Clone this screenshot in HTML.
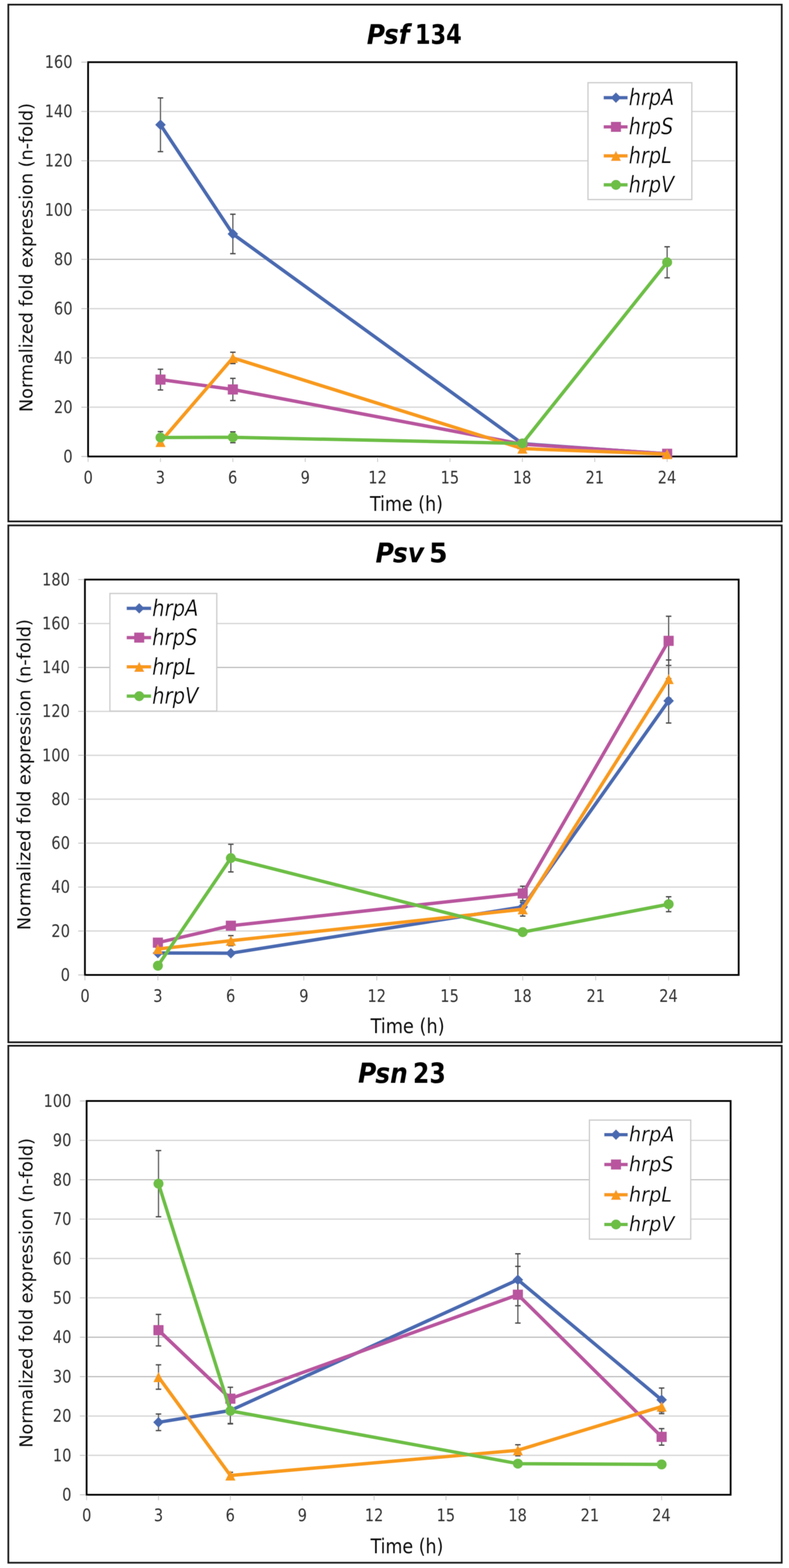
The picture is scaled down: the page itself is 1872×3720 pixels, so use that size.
<!DOCTYPE html><html><head><meta charset="utf-8"><title>hrp gene expression</title><style>html,body{margin:0;padding:0;background:#fff;}svg{display:block;}text{font-family:"DejaVu Sans Condensed","DejaVu Sans",sans-serif;}</style></head><body>
<svg width="1872" height="3720" viewBox="0 0 1872 3720">
<defs><filter id="soft" filterUnits="userSpaceOnUse" x="0" y="0" width="1872" height="3720"><feConvolveMatrix order="3" kernelMatrix="1 2 1 2 4 2 1 2 1" divisor="16" edgeMode="duplicate"/></filter></defs>
<rect x="0" y="0" width="1872" height="3720" fill="#fff"/>
<g filter="url(#soft)">
<rect x="19.75" y="11" width="1835" height="1226" fill="none" stroke="#161616" stroke-width="4"/>
<line x1="209" y1="966.06" x2="1747.75" y2="966.06" stroke="#d6d6d6" stroke-width="3"/>
<line x1="209" y1="849.12" x2="1747.75" y2="849.12" stroke="#d6d6d6" stroke-width="3"/>
<line x1="209" y1="732.19" x2="1747.75" y2="732.19" stroke="#d6d6d6" stroke-width="3"/>
<line x1="209" y1="615.25" x2="1747.75" y2="615.25" stroke="#b4b4b4" stroke-width="2.4"/>
<line x1="209" y1="498.31" x2="1747.75" y2="498.31" stroke="#d6d6d6" stroke-width="3"/>
<line x1="209" y1="381.38" x2="1747.75" y2="381.38" stroke="#d6d6d6" stroke-width="3"/>
<line x1="209" y1="264.44" x2="1747.75" y2="264.44" stroke="#d6d6d6" stroke-width="3"/>
<line x1="193" y1="1083" x2="209" y2="1083" stroke="#c4c4c4" stroke-width="2.2"/>
<line x1="193" y1="966.06" x2="209" y2="966.06" stroke="#c4c4c4" stroke-width="2.2"/>
<line x1="193" y1="849.12" x2="209" y2="849.12" stroke="#c4c4c4" stroke-width="2.2"/>
<line x1="193" y1="732.19" x2="209" y2="732.19" stroke="#c4c4c4" stroke-width="2.2"/>
<line x1="193" y1="615.25" x2="209" y2="615.25" stroke="#c4c4c4" stroke-width="2.2"/>
<line x1="193" y1="498.31" x2="209" y2="498.31" stroke="#c4c4c4" stroke-width="2.2"/>
<line x1="193" y1="381.38" x2="209" y2="381.38" stroke="#c4c4c4" stroke-width="2.2"/>
<line x1="193" y1="264.44" x2="209" y2="264.44" stroke="#c4c4c4" stroke-width="2.2"/>
<line x1="193" y1="147.5" x2="209" y2="147.5" stroke="#c4c4c4" stroke-width="2.2"/>
<line x1="209" y1="1083" x2="209" y2="1096" stroke="#cccccc" stroke-width="2.2"/>
<line x1="380.74" y1="1083" x2="380.74" y2="1096" stroke="#cccccc" stroke-width="2.2"/>
<line x1="552.47" y1="1083" x2="552.47" y2="1096" stroke="#cccccc" stroke-width="2.2"/>
<line x1="724.21" y1="1083" x2="724.21" y2="1096" stroke="#cccccc" stroke-width="2.2"/>
<line x1="895.94" y1="1083" x2="895.94" y2="1096" stroke="#cccccc" stroke-width="2.2"/>
<line x1="1067.68" y1="1083" x2="1067.68" y2="1096" stroke="#cccccc" stroke-width="2.2"/>
<line x1="1239.41" y1="1083" x2="1239.41" y2="1096" stroke="#cccccc" stroke-width="2.2"/>
<line x1="1411.15" y1="1083" x2="1411.15" y2="1096" stroke="#cccccc" stroke-width="2.2"/>
<line x1="1582.88" y1="1083" x2="1582.88" y2="1096" stroke="#cccccc" stroke-width="2.2"/>
<rect x="209" y="147.5" width="1538.75" height="935.5" fill="none" stroke="#000" stroke-width="4.2"/>
<line x1="380.74" y1="232.28" x2="380.74" y2="359.74" stroke="#555555" stroke-width="2.8"/>
<line x1="374.24" y1="232.28" x2="387.24" y2="232.28" stroke="#444444" stroke-width="3"/>
<line x1="374.24" y1="359.74" x2="387.24" y2="359.74" stroke="#444444" stroke-width="3"/>
<line x1="552.47" y1="508.25" x2="552.47" y2="601.8" stroke="#555555" stroke-width="2.8"/>
<line x1="545.97" y1="508.25" x2="558.97" y2="508.25" stroke="#444444" stroke-width="3"/>
<line x1="545.97" y1="601.8" x2="558.97" y2="601.8" stroke="#444444" stroke-width="3"/>
<line x1="1239.41" y1="1047.92" x2="1239.41" y2="1057.27" stroke="#555555" stroke-width="2.8"/>
<line x1="1232.91" y1="1047.92" x2="1245.91" y2="1047.92" stroke="#444444" stroke-width="3"/>
<line x1="1232.91" y1="1057.27" x2="1245.91" y2="1057.27" stroke="#444444" stroke-width="3"/>
<line x1="1582.88" y1="1073.94" x2="1582.88" y2="1079.78" stroke="#555555" stroke-width="2.8"/>
<line x1="1576.38" y1="1073.94" x2="1589.38" y2="1073.94" stroke="#444444" stroke-width="3"/>
<line x1="1576.38" y1="1079.78" x2="1589.38" y2="1079.78" stroke="#444444" stroke-width="3"/>
<line x1="380.74" y1="876.02" x2="380.74" y2="925.13" stroke="#555555" stroke-width="2.8"/>
<line x1="374.24" y1="876.02" x2="387.24" y2="876.02" stroke="#444444" stroke-width="3"/>
<line x1="374.24" y1="925.13" x2="387.24" y2="925.13" stroke="#444444" stroke-width="3"/>
<line x1="552.47" y1="897.65" x2="552.47" y2="950.28" stroke="#555555" stroke-width="2.8"/>
<line x1="545.97" y1="897.65" x2="558.97" y2="897.65" stroke="#444444" stroke-width="3"/>
<line x1="545.97" y1="950.28" x2="558.97" y2="950.28" stroke="#444444" stroke-width="3"/>
<line x1="1239.41" y1="1049.09" x2="1239.41" y2="1058.44" stroke="#555555" stroke-width="2.8"/>
<line x1="1232.91" y1="1049.09" x2="1245.91" y2="1049.09" stroke="#444444" stroke-width="3"/>
<line x1="1232.91" y1="1058.44" x2="1245.91" y2="1058.44" stroke="#444444" stroke-width="3"/>
<line x1="1582.88" y1="1073.64" x2="1582.88" y2="1079.49" stroke="#555555" stroke-width="2.8"/>
<line x1="1576.38" y1="1073.64" x2="1589.38" y2="1073.64" stroke="#444444" stroke-width="3"/>
<line x1="1576.38" y1="1079.49" x2="1589.38" y2="1079.49" stroke="#444444" stroke-width="3"/>
<line x1="380.74" y1="1042.66" x2="380.74" y2="1054.35" stroke="#555555" stroke-width="2.8"/>
<line x1="374.24" y1="1042.66" x2="387.24" y2="1042.66" stroke="#444444" stroke-width="3"/>
<line x1="374.24" y1="1054.35" x2="387.24" y2="1054.35" stroke="#444444" stroke-width="3"/>
<line x1="552.47" y1="835.68" x2="552.47" y2="862.57" stroke="#555555" stroke-width="2.8"/>
<line x1="545.97" y1="835.68" x2="558.97" y2="835.68" stroke="#444444" stroke-width="3"/>
<line x1="545.97" y1="862.57" x2="558.97" y2="862.57" stroke="#444444" stroke-width="3"/>
<line x1="1239.41" y1="1059.61" x2="1239.41" y2="1068.97" stroke="#555555" stroke-width="2.8"/>
<line x1="1232.91" y1="1059.61" x2="1245.91" y2="1059.61" stroke="#444444" stroke-width="3"/>
<line x1="1232.91" y1="1068.97" x2="1245.91" y2="1068.97" stroke="#444444" stroke-width="3"/>
<line x1="1582.88" y1="1074.23" x2="1582.88" y2="1080.08" stroke="#555555" stroke-width="2.8"/>
<line x1="1576.38" y1="1074.23" x2="1589.38" y2="1074.23" stroke="#444444" stroke-width="3"/>
<line x1="1576.38" y1="1080.08" x2="1589.38" y2="1080.08" stroke="#444444" stroke-width="3"/>
<line x1="380.74" y1="1023.95" x2="380.74" y2="1052.01" stroke="#555555" stroke-width="2.8"/>
<line x1="374.24" y1="1023.95" x2="387.24" y2="1023.95" stroke="#444444" stroke-width="3"/>
<line x1="374.24" y1="1052.01" x2="387.24" y2="1052.01" stroke="#444444" stroke-width="3"/>
<line x1="552.47" y1="1024.53" x2="552.47" y2="1050.26" stroke="#555555" stroke-width="2.8"/>
<line x1="545.97" y1="1024.53" x2="558.97" y2="1024.53" stroke="#444444" stroke-width="3"/>
<line x1="545.97" y1="1050.26" x2="558.97" y2="1050.26" stroke="#444444" stroke-width="3"/>
<line x1="1239.41" y1="1047.33" x2="1239.41" y2="1056.69" stroke="#555555" stroke-width="2.8"/>
<line x1="1232.91" y1="1047.33" x2="1245.91" y2="1047.33" stroke="#444444" stroke-width="3"/>
<line x1="1232.91" y1="1056.69" x2="1245.91" y2="1056.69" stroke="#444444" stroke-width="3"/>
<line x1="1582.88" y1="585.43" x2="1582.88" y2="659.1" stroke="#555555" stroke-width="2.8"/>
<line x1="1576.38" y1="585.43" x2="1589.38" y2="585.43" stroke="#444444" stroke-width="3"/>
<line x1="1576.38" y1="659.1" x2="1589.38" y2="659.1" stroke="#444444" stroke-width="3"/>
<polyline points="380.74,296.01 552.47,555.03 1239.41,1052.6 1582.88,1076.86" fill="none" stroke="#4A69B0" stroke-width="8" stroke-linejoin="round"/>
<polygon points="380.74,283.51 393.24,296.01 380.74,308.51 368.24,296.01" fill="#4A69B0"/>
<polygon points="552.47,542.53 564.97,555.03 552.47,567.53 539.97,555.03" fill="#4A69B0"/>
<polygon points="1239.41,1040.1 1251.91,1052.6 1239.41,1065.1 1226.91,1052.6" fill="#4A69B0"/>
<polygon points="1582.88,1064.36 1595.38,1076.86 1582.88,1089.36 1570.38,1076.86" fill="#4A69B0"/>
<polyline points="380.74,900.58 552.47,923.97 1239.41,1053.77 1582.88,1076.57" fill="none" stroke="#B8549E" stroke-width="8" stroke-linejoin="round"/>
<rect x="368.74" y="888.58" width="24" height="24" fill="#B8549E"/>
<rect x="540.47" y="911.97" width="24" height="24" fill="#B8549E"/>
<rect x="1227.41" y="1041.77" width="24" height="24" fill="#B8549E"/>
<rect x="1570.88" y="1064.57" width="24" height="24" fill="#B8549E"/>
<polyline points="380.74,1048.5 552.47,849.12 1239.41,1064.29 1582.88,1077.15" fill="none" stroke="#F8991E" stroke-width="8" stroke-linejoin="round"/>
<polygon points="380.74,1036.5 392.74,1060.5 368.74,1060.5" fill="#F8991E"/>
<polygon points="552.47,837.12 564.47,861.12 540.47,861.12" fill="#F8991E"/>
<polygon points="1239.41,1052.29 1251.41,1076.29 1227.41,1076.29" fill="#F8991E"/>
<polygon points="1582.88,1065.15 1594.88,1089.15 1570.88,1089.15" fill="#F8991E"/>
<polyline points="380.74,1037.98 552.47,1037.39 1239.41,1052.01 1582.88,622.27" fill="none" stroke="#6CBE45" stroke-width="8" stroke-linejoin="round"/>
<circle cx="380.74" cy="1037.98" r="11.8" fill="#6CBE45"/>
<circle cx="552.47" cy="1037.39" r="11.8" fill="#6CBE45"/>
<circle cx="1239.41" cy="1052.01" r="11.8" fill="#6CBE45"/>
<circle cx="1582.88" cy="622.27" r="11.8" fill="#6CBE45"/>
<rect x="1395.1" y="196.2" width="246.3" height="277.2" fill="#fff" stroke="#cccccc" stroke-width="3"/>
<line x1="1432.3" y1="231.8" x2="1489.1" y2="231.8" stroke="#4A69B0" stroke-width="8"/>
<polygon points="1461.4,219.3 1473.9,231.8 1461.4,244.3 1448.9,231.8" fill="#4A69B0"/>
<line x1="1432.3" y1="301" x2="1489.1" y2="301" stroke="#B8549E" stroke-width="8"/>
<rect x="1449.4" y="289" width="24" height="24" fill="#B8549E"/>
<line x1="1432.3" y1="369.7" x2="1489.1" y2="369.7" stroke="#F8991E" stroke-width="8"/>
<polygon points="1461.4,357.7 1473.4,381.7 1449.4,381.7" fill="#F8991E"/>
<line x1="1432.3" y1="438.6" x2="1489.1" y2="438.6" stroke="#6CBE45" stroke-width="8"/>
<circle cx="1461.4" cy="438.6" r="11.8" fill="#6CBE45"/>
<text x="870.23" y="104" font-size="64" textLength="101.4" lengthAdjust="spacingAndGlyphs" font-style="italic" font-weight="bold" fill="#000">Psf</text>
<text x="984.45" y="104" font-size="64" textLength="111.21" lengthAdjust="spacingAndGlyphs" font-weight="bold" fill="#000">134</text>
<text x="150.13" y="1096.8" font-size="41.7" textLength="22.05" lengthAdjust="spacingAndGlyphs" fill="#333333">0</text>
<text x="128.08" y="979.86" font-size="41.7" textLength="44.1" lengthAdjust="spacingAndGlyphs" fill="#333333">20</text>
<text x="128.08" y="862.92" font-size="41.7" textLength="44.1" lengthAdjust="spacingAndGlyphs" fill="#333333">40</text>
<text x="128.08" y="745.99" font-size="41.7" textLength="44.1" lengthAdjust="spacingAndGlyphs" fill="#333333">60</text>
<text x="128.08" y="629.05" font-size="41.7" textLength="44.1" lengthAdjust="spacingAndGlyphs" fill="#333333">80</text>
<text x="106.03" y="512.11" font-size="41.7" textLength="66.15" lengthAdjust="spacingAndGlyphs" fill="#333333">100</text>
<text x="106.03" y="395.18" font-size="41.7" textLength="66.15" lengthAdjust="spacingAndGlyphs" fill="#333333">120</text>
<text x="106.03" y="278.24" font-size="41.7" textLength="66.15" lengthAdjust="spacingAndGlyphs" fill="#333333">140</text>
<text x="106.03" y="161.3" font-size="41.7" textLength="66.15" lengthAdjust="spacingAndGlyphs" fill="#333333">160</text>
<text x="198.16" y="1147.28" font-size="41.7" textLength="22.05" lengthAdjust="spacingAndGlyphs" fill="#333333">0</text>
<text x="369.6" y="1147.28" font-size="41.7" textLength="22.05" lengthAdjust="spacingAndGlyphs" fill="#333333">3</text>
<text x="541.03" y="1147.28" font-size="41.7" textLength="22.05" lengthAdjust="spacingAndGlyphs" fill="#333333">6</text>
<text x="713.37" y="1147.28" font-size="41.7" textLength="22.05" lengthAdjust="spacingAndGlyphs" fill="#333333">9</text>
<text x="873.78" y="1147.28" font-size="41.7" textLength="44.1" lengthAdjust="spacingAndGlyphs" fill="#333333">12</text>
<text x="1045.21" y="1147.28" font-size="41.7" textLength="44.1" lengthAdjust="spacingAndGlyphs" fill="#333333">15</text>
<text x="1216.65" y="1147.28" font-size="41.7" textLength="44.1" lengthAdjust="spacingAndGlyphs" fill="#333333">18</text>
<text x="1389.29" y="1147.28" font-size="41.7" textLength="44.1" lengthAdjust="spacingAndGlyphs" fill="#333333">21</text>
<text x="1560.42" y="1147.28" font-size="41.7" textLength="44.1" lengthAdjust="spacingAndGlyphs" fill="#333333">24</text>
<text x="877.72" y="1212.1" font-size="48.46" textLength="173.2" lengthAdjust="spacingAndGlyphs" fill="#111">Time (h)</text>
<text x="0" y="0" font-size="42.12" textLength="732.97" lengthAdjust="spacingAndGlyphs" fill="#111" transform="translate(77 977.43) rotate(-90)">Normalized fold expression (n-fold)</text>
<text x="1491.81" y="248.7" font-size="53.16" textLength="107.86" lengthAdjust="spacingAndGlyphs" font-style="italic" fill="#000">hrpA</text>
<text x="1491.81" y="317.9" font-size="53.16" textLength="105.63" lengthAdjust="spacingAndGlyphs" font-style="italic" fill="#000">hrpS</text>
<text x="1491.81" y="386.6" font-size="53.16" textLength="102.06" lengthAdjust="spacingAndGlyphs" font-style="italic" fill="#000">hrpL</text>
<text x="1491.81" y="455.5" font-size="53.16" textLength="107.86" lengthAdjust="spacingAndGlyphs" font-style="italic" fill="#000">hrpV</text>
<rect x="19.75" y="1246.5" width="1835" height="1226.25" fill="none" stroke="#161616" stroke-width="4"/>
<line x1="201.5" y1="2208.78" x2="1752.6" y2="2208.78" stroke="#d6d6d6" stroke-width="3"/>
<line x1="201.5" y1="2104.56" x2="1752.6" y2="2104.56" stroke="#d6d6d6" stroke-width="3"/>
<line x1="201.5" y1="2000.33" x2="1752.6" y2="2000.33" stroke="#d6d6d6" stroke-width="3"/>
<line x1="201.5" y1="1896.11" x2="1752.6" y2="1896.11" stroke="#d6d6d6" stroke-width="3"/>
<line x1="201.5" y1="1791.89" x2="1752.6" y2="1791.89" stroke="#d6d6d6" stroke-width="3"/>
<line x1="201.5" y1="1687.67" x2="1752.6" y2="1687.67" stroke="#d6d6d6" stroke-width="3"/>
<line x1="201.5" y1="1583.44" x2="1752.6" y2="1583.44" stroke="#b4b4b4" stroke-width="2.4"/>
<line x1="201.5" y1="1479.22" x2="1752.6" y2="1479.22" stroke="#d6d6d6" stroke-width="3"/>
<line x1="185.5" y1="2313" x2="201.5" y2="2313" stroke="#c4c4c4" stroke-width="2.2"/>
<line x1="185.5" y1="2208.78" x2="201.5" y2="2208.78" stroke="#c4c4c4" stroke-width="2.2"/>
<line x1="185.5" y1="2104.56" x2="201.5" y2="2104.56" stroke="#c4c4c4" stroke-width="2.2"/>
<line x1="185.5" y1="2000.33" x2="201.5" y2="2000.33" stroke="#c4c4c4" stroke-width="2.2"/>
<line x1="185.5" y1="1896.11" x2="201.5" y2="1896.11" stroke="#c4c4c4" stroke-width="2.2"/>
<line x1="185.5" y1="1791.89" x2="201.5" y2="1791.89" stroke="#c4c4c4" stroke-width="2.2"/>
<line x1="185.5" y1="1687.67" x2="201.5" y2="1687.67" stroke="#c4c4c4" stroke-width="2.2"/>
<line x1="185.5" y1="1583.44" x2="201.5" y2="1583.44" stroke="#c4c4c4" stroke-width="2.2"/>
<line x1="185.5" y1="1479.22" x2="201.5" y2="1479.22" stroke="#c4c4c4" stroke-width="2.2"/>
<line x1="185.5" y1="1375" x2="201.5" y2="1375" stroke="#c4c4c4" stroke-width="2.2"/>
<line x1="201.5" y1="2313" x2="201.5" y2="2326" stroke="#cccccc" stroke-width="2.2"/>
<line x1="374.61" y1="2313" x2="374.61" y2="2326" stroke="#cccccc" stroke-width="2.2"/>
<line x1="547.73" y1="2313" x2="547.73" y2="2326" stroke="#cccccc" stroke-width="2.2"/>
<line x1="720.84" y1="2313" x2="720.84" y2="2326" stroke="#cccccc" stroke-width="2.2"/>
<line x1="893.96" y1="2313" x2="893.96" y2="2326" stroke="#cccccc" stroke-width="2.2"/>
<line x1="1067.07" y1="2313" x2="1067.07" y2="2326" stroke="#cccccc" stroke-width="2.2"/>
<line x1="1240.18" y1="2313" x2="1240.18" y2="2326" stroke="#cccccc" stroke-width="2.2"/>
<line x1="1413.3" y1="2313" x2="1413.3" y2="2326" stroke="#cccccc" stroke-width="2.2"/>
<line x1="1586.41" y1="2313" x2="1586.41" y2="2326" stroke="#cccccc" stroke-width="2.2"/>
<rect x="201.5" y="1375" width="1551.1" height="938" fill="none" stroke="#000" stroke-width="4.2"/>
<line x1="374.61" y1="2256.72" x2="374.61" y2="2265.06" stroke="#555555" stroke-width="2.8"/>
<line x1="368.11" y1="2256.72" x2="381.11" y2="2256.72" stroke="#444444" stroke-width="3"/>
<line x1="368.11" y1="2265.06" x2="381.11" y2="2265.06" stroke="#444444" stroke-width="3"/>
<line x1="547.73" y1="2257.24" x2="547.73" y2="2265.58" stroke="#555555" stroke-width="2.8"/>
<line x1="541.23" y1="2257.24" x2="554.23" y2="2257.24" stroke="#444444" stroke-width="3"/>
<line x1="541.23" y1="2265.58" x2="554.23" y2="2265.58" stroke="#444444" stroke-width="3"/>
<line x1="1240.18" y1="2141.03" x2="1240.18" y2="2161.88" stroke="#555555" stroke-width="2.8"/>
<line x1="1233.68" y1="2141.03" x2="1246.68" y2="2141.03" stroke="#444444" stroke-width="3"/>
<line x1="1233.68" y1="2161.88" x2="1246.68" y2="2161.88" stroke="#444444" stroke-width="3"/>
<line x1="1586.41" y1="1610.02" x2="1586.41" y2="1715.29" stroke="#555555" stroke-width="2.8"/>
<line x1="1579.91" y1="1610.02" x2="1592.91" y2="1610.02" stroke="#444444" stroke-width="3"/>
<line x1="1579.91" y1="1715.29" x2="1592.91" y2="1715.29" stroke="#444444" stroke-width="3"/>
<line x1="374.61" y1="2232.23" x2="374.61" y2="2240.57" stroke="#555555" stroke-width="2.8"/>
<line x1="368.11" y1="2232.23" x2="381.11" y2="2232.23" stroke="#444444" stroke-width="3"/>
<line x1="368.11" y1="2240.57" x2="381.11" y2="2240.57" stroke="#444444" stroke-width="3"/>
<line x1="547.73" y1="2192.1" x2="547.73" y2="2200.44" stroke="#555555" stroke-width="2.8"/>
<line x1="541.23" y1="2192.1" x2="554.23" y2="2192.1" stroke="#444444" stroke-width="3"/>
<line x1="541.23" y1="2200.44" x2="554.23" y2="2200.44" stroke="#444444" stroke-width="3"/>
<line x1="1240.18" y1="2102.47" x2="1240.18" y2="2136.86" stroke="#555555" stroke-width="2.8"/>
<line x1="1233.68" y1="2102.47" x2="1246.68" y2="2102.47" stroke="#444444" stroke-width="3"/>
<line x1="1233.68" y1="2136.86" x2="1246.68" y2="2136.86" stroke="#444444" stroke-width="3"/>
<line x1="1586.41" y1="1462.03" x2="1586.41" y2="1578.75" stroke="#555555" stroke-width="2.8"/>
<line x1="1579.91" y1="1462.03" x2="1592.91" y2="1462.03" stroke="#444444" stroke-width="3"/>
<line x1="1579.91" y1="1578.75" x2="1592.91" y2="1578.75" stroke="#444444" stroke-width="3"/>
<line x1="374.61" y1="2247.34" x2="374.61" y2="2255.68" stroke="#555555" stroke-width="2.8"/>
<line x1="368.11" y1="2247.34" x2="381.11" y2="2247.34" stroke="#444444" stroke-width="3"/>
<line x1="368.11" y1="2255.68" x2="381.11" y2="2255.68" stroke="#444444" stroke-width="3"/>
<line x1="547.73" y1="2219.72" x2="547.73" y2="2243.69" stroke="#555555" stroke-width="2.8"/>
<line x1="541.23" y1="2219.72" x2="554.23" y2="2219.72" stroke="#444444" stroke-width="3"/>
<line x1="541.23" y1="2243.69" x2="554.23" y2="2243.69" stroke="#444444" stroke-width="3"/>
<line x1="1240.18" y1="2141.03" x2="1240.18" y2="2173.34" stroke="#555555" stroke-width="2.8"/>
<line x1="1233.68" y1="2141.03" x2="1246.68" y2="2141.03" stroke="#444444" stroke-width="3"/>
<line x1="1233.68" y1="2173.34" x2="1246.68" y2="2173.34" stroke="#444444" stroke-width="3"/>
<line x1="1586.41" y1="1565.73" x2="1586.41" y2="1656.4" stroke="#555555" stroke-width="2.8"/>
<line x1="1579.91" y1="1565.73" x2="1592.91" y2="1565.73" stroke="#444444" stroke-width="3"/>
<line x1="1579.91" y1="1656.4" x2="1592.91" y2="1656.4" stroke="#444444" stroke-width="3"/>
<line x1="374.61" y1="2286.94" x2="374.61" y2="2295.28" stroke="#555555" stroke-width="2.8"/>
<line x1="368.11" y1="2286.94" x2="381.11" y2="2286.94" stroke="#444444" stroke-width="3"/>
<line x1="368.11" y1="2295.28" x2="381.11" y2="2295.28" stroke="#444444" stroke-width="3"/>
<line x1="547.73" y1="2002.94" x2="547.73" y2="2068.6" stroke="#555555" stroke-width="2.8"/>
<line x1="541.23" y1="2002.94" x2="554.23" y2="2002.94" stroke="#444444" stroke-width="3"/>
<line x1="541.23" y1="2068.6" x2="554.23" y2="2068.6" stroke="#444444" stroke-width="3"/>
<line x1="1240.18" y1="2207.21" x2="1240.18" y2="2215.55" stroke="#555555" stroke-width="2.8"/>
<line x1="1233.68" y1="2207.21" x2="1246.68" y2="2207.21" stroke="#444444" stroke-width="3"/>
<line x1="1233.68" y1="2215.55" x2="1246.68" y2="2215.55" stroke="#444444" stroke-width="3"/>
<line x1="1586.41" y1="2127.48" x2="1586.41" y2="2162.92" stroke="#555555" stroke-width="2.8"/>
<line x1="1579.91" y1="2127.48" x2="1592.91" y2="2127.48" stroke="#444444" stroke-width="3"/>
<line x1="1579.91" y1="2162.92" x2="1592.91" y2="2162.92" stroke="#444444" stroke-width="3"/>
<polyline points="374.61,2260.89 547.73,2261.41 1240.18,2151.46 1586.41,1662.65" fill="none" stroke="#4A69B0" stroke-width="8" stroke-linejoin="round"/>
<polygon points="374.61,2248.39 387.11,2260.89 374.61,2273.39 362.11,2260.89" fill="#4A69B0"/>
<polygon points="547.73,2248.91 560.23,2261.41 547.73,2273.91 535.23,2261.41" fill="#4A69B0"/>
<polygon points="1240.18,2138.96 1252.68,2151.46 1240.18,2163.96 1227.68,2151.46" fill="#4A69B0"/>
<polygon points="1586.41,1650.15 1598.91,1662.65 1586.41,1675.15 1573.91,1662.65" fill="#4A69B0"/>
<polyline points="374.61,2236.4 547.73,2196.27 1240.18,2119.67 1586.41,1520.39" fill="none" stroke="#B8549E" stroke-width="8" stroke-linejoin="round"/>
<rect x="362.61" y="2224.4" width="24" height="24" fill="#B8549E"/>
<rect x="535.73" y="2184.27" width="24" height="24" fill="#B8549E"/>
<rect x="1228.18" y="2107.67" width="24" height="24" fill="#B8549E"/>
<rect x="1574.41" y="1508.39" width="24" height="24" fill="#B8549E"/>
<polyline points="374.61,2251.51 547.73,2231.71 1240.18,2157.19 1586.41,1611.06" fill="none" stroke="#F8991E" stroke-width="8" stroke-linejoin="round"/>
<polygon points="374.61,2239.51 386.61,2263.51 362.61,2263.51" fill="#F8991E"/>
<polygon points="547.73,2219.71 559.73,2243.71 535.73,2243.71" fill="#F8991E"/>
<polygon points="1240.18,2145.19 1252.18,2169.19 1228.18,2169.19" fill="#F8991E"/>
<polygon points="1586.41,1599.06 1598.41,1623.06 1574.41,1623.06" fill="#F8991E"/>
<polyline points="374.61,2291.11 547.73,2035.77 1240.18,2211.38 1586.41,2145.2" fill="none" stroke="#6CBE45" stroke-width="8" stroke-linejoin="round"/>
<circle cx="374.61" cy="2291.11" r="11.8" fill="#6CBE45"/>
<circle cx="547.73" cy="2035.77" r="11.8" fill="#6CBE45"/>
<circle cx="1240.18" cy="2211.38" r="11.8" fill="#6CBE45"/>
<circle cx="1586.41" cy="2145.2" r="11.8" fill="#6CBE45"/>
<rect x="260.8" y="1408" width="253.5" height="279" fill="#fff" stroke="#cccccc" stroke-width="3"/>
<line x1="300.6" y1="1443.2" x2="358.5" y2="1443.2" stroke="#4A69B0" stroke-width="8"/>
<polygon points="330.3,1430.7 342.8,1443.2 330.3,1455.7 317.8,1443.2" fill="#4A69B0"/>
<line x1="300.6" y1="1512.7" x2="358.5" y2="1512.7" stroke="#B8549E" stroke-width="8"/>
<rect x="318.3" y="1500.7" width="24" height="24" fill="#B8549E"/>
<line x1="300.6" y1="1582.1" x2="358.5" y2="1582.1" stroke="#F8991E" stroke-width="8"/>
<polygon points="330.3,1570.1 342.3,1594.1 318.3,1594.1" fill="#F8991E"/>
<line x1="300.6" y1="1651.6" x2="358.5" y2="1651.6" stroke="#6CBE45" stroke-width="8"/>
<circle cx="330.3" cy="1651.6" r="11.8" fill="#6CBE45"/>
<text x="890.97" y="1333.75" font-size="64.68" textLength="115.24" lengthAdjust="spacingAndGlyphs" font-style="italic" font-weight="bold" fill="#000">Psv</text>
<text x="1018.11" y="1333.75" font-size="64.68" textLength="44.01" lengthAdjust="spacingAndGlyphs" font-weight="bold" fill="#000">5</text>
<text x="143.88" y="2326.8" font-size="41.7" textLength="22.05" lengthAdjust="spacingAndGlyphs" fill="#333333">0</text>
<text x="121.83" y="2222.58" font-size="41.7" textLength="44.1" lengthAdjust="spacingAndGlyphs" fill="#333333">20</text>
<text x="121.83" y="2118.36" font-size="41.7" textLength="44.1" lengthAdjust="spacingAndGlyphs" fill="#333333">40</text>
<text x="121.83" y="2014.13" font-size="41.7" textLength="44.1" lengthAdjust="spacingAndGlyphs" fill="#333333">60</text>
<text x="121.83" y="1909.91" font-size="41.7" textLength="44.1" lengthAdjust="spacingAndGlyphs" fill="#333333">80</text>
<text x="99.78" y="1805.69" font-size="41.7" textLength="66.15" lengthAdjust="spacingAndGlyphs" fill="#333333">100</text>
<text x="99.78" y="1701.47" font-size="41.7" textLength="66.15" lengthAdjust="spacingAndGlyphs" fill="#333333">120</text>
<text x="99.78" y="1597.24" font-size="41.7" textLength="66.15" lengthAdjust="spacingAndGlyphs" fill="#333333">140</text>
<text x="99.78" y="1493.02" font-size="41.7" textLength="66.15" lengthAdjust="spacingAndGlyphs" fill="#333333">160</text>
<text x="99.78" y="1388.8" font-size="41.7" textLength="66.15" lengthAdjust="spacingAndGlyphs" fill="#333333">180</text>
<text x="190.66" y="2377.28" font-size="41.7" textLength="22.05" lengthAdjust="spacingAndGlyphs" fill="#333333">0</text>
<text x="363.48" y="2377.28" font-size="41.7" textLength="22.05" lengthAdjust="spacingAndGlyphs" fill="#333333">3</text>
<text x="536.29" y="2377.28" font-size="41.7" textLength="22.05" lengthAdjust="spacingAndGlyphs" fill="#333333">6</text>
<text x="710" y="2377.28" font-size="41.7" textLength="22.05" lengthAdjust="spacingAndGlyphs" fill="#333333">9</text>
<text x="871.79" y="2377.28" font-size="41.7" textLength="44.1" lengthAdjust="spacingAndGlyphs" fill="#333333">12</text>
<text x="1044.61" y="2377.28" font-size="41.7" textLength="44.1" lengthAdjust="spacingAndGlyphs" fill="#333333">15</text>
<text x="1217.42" y="2377.28" font-size="41.7" textLength="44.1" lengthAdjust="spacingAndGlyphs" fill="#333333">18</text>
<text x="1391.44" y="2377.28" font-size="41.7" textLength="44.1" lengthAdjust="spacingAndGlyphs" fill="#333333">21</text>
<text x="1563.95" y="2377.28" font-size="41.7" textLength="44.1" lengthAdjust="spacingAndGlyphs" fill="#333333">24</text>
<text x="879.23" y="2450.8" font-size="48.07" textLength="175.63" lengthAdjust="spacingAndGlyphs" fill="#111">Time (h)</text>
<text x="0" y="0" font-size="42.06" textLength="738.12" lengthAdjust="spacingAndGlyphs" fill="#111" transform="translate(71.7 2206.85) rotate(-90)">Normalized fold expression (n-fold)</text>
<text x="361.09" y="1460.6" font-size="53.03" textLength="109.63" lengthAdjust="spacingAndGlyphs" font-style="italic" fill="#000">hrpA</text>
<text x="361.09" y="1530.1" font-size="53.03" textLength="107.36" lengthAdjust="spacingAndGlyphs" font-style="italic" fill="#000">hrpS</text>
<text x="361.09" y="1599.5" font-size="53.03" textLength="103.74" lengthAdjust="spacingAndGlyphs" font-style="italic" fill="#000">hrpL</text>
<text x="361.09" y="1669" font-size="53.03" textLength="109.63" lengthAdjust="spacingAndGlyphs" font-style="italic" fill="#000">hrpV</text>
<rect x="19.75" y="2481" width="1835" height="1226.5" fill="none" stroke="#161616" stroke-width="4"/>
<line x1="205.5" y1="3452.82" x2="1733.5" y2="3452.82" stroke="#d6d6d6" stroke-width="3"/>
<line x1="205.5" y1="3359.4" x2="1733.5" y2="3359.4" stroke="#d6d6d6" stroke-width="3"/>
<line x1="205.5" y1="3265.97" x2="1733.5" y2="3265.97" stroke="#b4b4b4" stroke-width="2.4"/>
<line x1="205.5" y1="3172.55" x2="1733.5" y2="3172.55" stroke="#b4b4b4" stroke-width="2.4"/>
<line x1="205.5" y1="3079.12" x2="1733.5" y2="3079.12" stroke="#d6d6d6" stroke-width="3"/>
<line x1="205.5" y1="2985.7" x2="1733.5" y2="2985.7" stroke="#d6d6d6" stroke-width="3"/>
<line x1="205.5" y1="2892.28" x2="1733.5" y2="2892.28" stroke="#d6d6d6" stroke-width="3"/>
<line x1="205.5" y1="2798.85" x2="1733.5" y2="2798.85" stroke="#b4b4b4" stroke-width="2.4"/>
<line x1="205.5" y1="2705.43" x2="1733.5" y2="2705.43" stroke="#d6d6d6" stroke-width="3"/>
<line x1="189.5" y1="3546.25" x2="205.5" y2="3546.25" stroke="#c4c4c4" stroke-width="2.2"/>
<line x1="189.5" y1="3452.82" x2="205.5" y2="3452.82" stroke="#c4c4c4" stroke-width="2.2"/>
<line x1="189.5" y1="3359.4" x2="205.5" y2="3359.4" stroke="#c4c4c4" stroke-width="2.2"/>
<line x1="189.5" y1="3265.97" x2="205.5" y2="3265.97" stroke="#c4c4c4" stroke-width="2.2"/>
<line x1="189.5" y1="3172.55" x2="205.5" y2="3172.55" stroke="#c4c4c4" stroke-width="2.2"/>
<line x1="189.5" y1="3079.12" x2="205.5" y2="3079.12" stroke="#c4c4c4" stroke-width="2.2"/>
<line x1="189.5" y1="2985.7" x2="205.5" y2="2985.7" stroke="#c4c4c4" stroke-width="2.2"/>
<line x1="189.5" y1="2892.28" x2="205.5" y2="2892.28" stroke="#c4c4c4" stroke-width="2.2"/>
<line x1="189.5" y1="2798.85" x2="205.5" y2="2798.85" stroke="#c4c4c4" stroke-width="2.2"/>
<line x1="189.5" y1="2705.43" x2="205.5" y2="2705.43" stroke="#c4c4c4" stroke-width="2.2"/>
<line x1="189.5" y1="2612" x2="205.5" y2="2612" stroke="#c4c4c4" stroke-width="2.2"/>
<line x1="205.5" y1="3546.25" x2="205.5" y2="3559.25" stroke="#cccccc" stroke-width="2.2"/>
<line x1="376.04" y1="3546.25" x2="376.04" y2="3559.25" stroke="#cccccc" stroke-width="2.2"/>
<line x1="546.57" y1="3546.25" x2="546.57" y2="3559.25" stroke="#cccccc" stroke-width="2.2"/>
<line x1="717.11" y1="3546.25" x2="717.11" y2="3559.25" stroke="#cccccc" stroke-width="2.2"/>
<line x1="887.64" y1="3546.25" x2="887.64" y2="3559.25" stroke="#cccccc" stroke-width="2.2"/>
<line x1="1058.18" y1="3546.25" x2="1058.18" y2="3559.25" stroke="#cccccc" stroke-width="2.2"/>
<line x1="1228.71" y1="3546.25" x2="1228.71" y2="3559.25" stroke="#cccccc" stroke-width="2.2"/>
<line x1="1399.25" y1="3546.25" x2="1399.25" y2="3559.25" stroke="#cccccc" stroke-width="2.2"/>
<line x1="1569.79" y1="3546.25" x2="1569.79" y2="3559.25" stroke="#cccccc" stroke-width="2.2"/>
<rect x="205.5" y="2612" width="1528" height="934.25" fill="none" stroke="#000" stroke-width="4.2"/>
<line x1="376.04" y1="3354.73" x2="376.04" y2="3393.97" stroke="#555555" stroke-width="2.8"/>
<line x1="369.54" y1="3354.73" x2="382.54" y2="3354.73" stroke="#444444" stroke-width="3"/>
<line x1="369.54" y1="3393.97" x2="382.54" y2="3393.97" stroke="#444444" stroke-width="3"/>
<line x1="546.57" y1="3315.49" x2="546.57" y2="3377.15" stroke="#555555" stroke-width="2.8"/>
<line x1="540.07" y1="3315.49" x2="553.07" y2="3315.49" stroke="#444444" stroke-width="3"/>
<line x1="540.07" y1="3377.15" x2="553.07" y2="3377.15" stroke="#444444" stroke-width="3"/>
<line x1="1228.71" y1="2974.49" x2="1228.71" y2="3097.81" stroke="#555555" stroke-width="2.8"/>
<line x1="1222.21" y1="2974.49" x2="1235.21" y2="2974.49" stroke="#444444" stroke-width="3"/>
<line x1="1222.21" y1="3097.81" x2="1235.21" y2="3097.81" stroke="#444444" stroke-width="3"/>
<line x1="1569.79" y1="3293.07" x2="1569.79" y2="3349.12" stroke="#555555" stroke-width="2.8"/>
<line x1="1563.29" y1="3293.07" x2="1576.29" y2="3293.07" stroke="#444444" stroke-width="3"/>
<line x1="1563.29" y1="3349.12" x2="1576.29" y2="3349.12" stroke="#444444" stroke-width="3"/>
<line x1="376.04" y1="3118.36" x2="376.04" y2="3193.1" stroke="#555555" stroke-width="2.8"/>
<line x1="369.54" y1="3118.36" x2="382.54" y2="3118.36" stroke="#444444" stroke-width="3"/>
<line x1="369.54" y1="3193.1" x2="382.54" y2="3193.1" stroke="#444444" stroke-width="3"/>
<line x1="546.57" y1="3291.2" x2="546.57" y2="3345.39" stroke="#555555" stroke-width="2.8"/>
<line x1="540.07" y1="3291.2" x2="553.07" y2="3291.2" stroke="#444444" stroke-width="3"/>
<line x1="540.07" y1="3345.39" x2="553.07" y2="3345.39" stroke="#444444" stroke-width="3"/>
<line x1="1228.71" y1="3004.39" x2="1228.71" y2="3138.92" stroke="#555555" stroke-width="2.8"/>
<line x1="1222.21" y1="3004.39" x2="1235.21" y2="3004.39" stroke="#444444" stroke-width="3"/>
<line x1="1222.21" y1="3138.92" x2="1235.21" y2="3138.92" stroke="#444444" stroke-width="3"/>
<line x1="1569.79" y1="3389.3" x2="1569.79" y2="3428.53" stroke="#555555" stroke-width="2.8"/>
<line x1="1563.29" y1="3389.3" x2="1576.29" y2="3389.3" stroke="#444444" stroke-width="3"/>
<line x1="1563.29" y1="3428.53" x2="1576.29" y2="3428.53" stroke="#444444" stroke-width="3"/>
<line x1="376.04" y1="3237.95" x2="376.04" y2="3295.87" stroke="#555555" stroke-width="2.8"/>
<line x1="369.54" y1="3237.95" x2="382.54" y2="3237.95" stroke="#444444" stroke-width="3"/>
<line x1="369.54" y1="3295.87" x2="382.54" y2="3295.87" stroke="#444444" stroke-width="3"/>
<line x1="546.57" y1="3493" x2="546.57" y2="3507.95" stroke="#555555" stroke-width="2.8"/>
<line x1="540.07" y1="3493" x2="553.07" y2="3493" stroke="#444444" stroke-width="3"/>
<line x1="540.07" y1="3507.95" x2="553.07" y2="3507.95" stroke="#444444" stroke-width="3"/>
<line x1="1228.71" y1="3427.6" x2="1228.71" y2="3453.76" stroke="#555555" stroke-width="2.8"/>
<line x1="1222.21" y1="3427.6" x2="1235.21" y2="3427.6" stroke="#444444" stroke-width="3"/>
<line x1="1222.21" y1="3453.76" x2="1235.21" y2="3453.76" stroke="#444444" stroke-width="3"/>
<line x1="1569.79" y1="3320.16" x2="1569.79" y2="3353.79" stroke="#555555" stroke-width="2.8"/>
<line x1="1563.29" y1="3320.16" x2="1576.29" y2="3320.16" stroke="#444444" stroke-width="3"/>
<line x1="1563.29" y1="3353.79" x2="1576.29" y2="3353.79" stroke="#444444" stroke-width="3"/>
<line x1="376.04" y1="2729.72" x2="376.04" y2="2886.67" stroke="#555555" stroke-width="2.8"/>
<line x1="369.54" y1="2729.72" x2="382.54" y2="2729.72" stroke="#444444" stroke-width="3"/>
<line x1="369.54" y1="2886.67" x2="382.54" y2="2886.67" stroke="#444444" stroke-width="3"/>
<line x1="546.57" y1="3316.42" x2="546.57" y2="3378.09" stroke="#555555" stroke-width="2.8"/>
<line x1="540.07" y1="3316.42" x2="553.07" y2="3316.42" stroke="#444444" stroke-width="3"/>
<line x1="540.07" y1="3378.09" x2="553.07" y2="3378.09" stroke="#444444" stroke-width="3"/>
<line x1="1228.71" y1="3464.97" x2="1228.71" y2="3479.92" stroke="#555555" stroke-width="2.8"/>
<line x1="1222.21" y1="3464.97" x2="1235.21" y2="3464.97" stroke="#444444" stroke-width="3"/>
<line x1="1222.21" y1="3479.92" x2="1235.21" y2="3479.92" stroke="#444444" stroke-width="3"/>
<line x1="1569.79" y1="3466.84" x2="1569.79" y2="3481.79" stroke="#555555" stroke-width="2.8"/>
<line x1="1563.29" y1="3466.84" x2="1576.29" y2="3466.84" stroke="#444444" stroke-width="3"/>
<line x1="1563.29" y1="3481.79" x2="1576.29" y2="3481.79" stroke="#444444" stroke-width="3"/>
<polyline points="376.04,3374.35 546.57,3346.32 1228.71,3036.15 1569.79,3321.1" fill="none" stroke="#4A69B0" stroke-width="8" stroke-linejoin="round"/>
<polygon points="376.04,3361.85 388.54,3374.35 376.04,3386.85 363.54,3374.35" fill="#4A69B0"/>
<polygon points="546.57,3333.82 559.07,3346.32 546.57,3358.82 534.07,3346.32" fill="#4A69B0"/>
<polygon points="1228.71,3023.65 1241.21,3036.15 1228.71,3048.65 1216.21,3036.15" fill="#4A69B0"/>
<polygon points="1569.79,3308.6 1582.29,3321.1 1569.79,3333.6 1557.29,3321.1" fill="#4A69B0"/>
<polyline points="376.04,3155.73 546.57,3318.29 1228.71,3071.65 1569.79,3408.92" fill="none" stroke="#B8549E" stroke-width="8" stroke-linejoin="round"/>
<rect x="364.04" y="3143.73" width="24" height="24" fill="#B8549E"/>
<rect x="534.57" y="3306.29" width="24" height="24" fill="#B8549E"/>
<rect x="1216.71" y="3059.65" width="24" height="24" fill="#B8549E"/>
<rect x="1557.79" y="3396.92" width="24" height="24" fill="#B8549E"/>
<polyline points="376.04,3266.91 546.57,3500.47 1228.71,3440.68 1569.79,3336.98" fill="none" stroke="#F8991E" stroke-width="8" stroke-linejoin="round"/>
<polygon points="376.04,3254.91 388.04,3278.91 364.04,3278.91" fill="#F8991E"/>
<polygon points="546.57,3488.47 558.57,3512.47 534.57,3512.47" fill="#F8991E"/>
<polygon points="1228.71,3428.68 1240.71,3452.68 1216.71,3452.68" fill="#F8991E"/>
<polygon points="1569.79,3324.98 1581.79,3348.98 1557.79,3348.98" fill="#F8991E"/>
<polyline points="376.04,2808.19 546.57,3347.25 1228.71,3472.44 1569.79,3474.31" fill="none" stroke="#6CBE45" stroke-width="8" stroke-linejoin="round"/>
<circle cx="376.04" cy="2808.19" r="11.8" fill="#6CBE45"/>
<circle cx="546.57" cy="3347.25" r="11.8" fill="#6CBE45"/>
<circle cx="1228.71" cy="3472.44" r="11.8" fill="#6CBE45"/>
<circle cx="1569.79" cy="3474.31" r="11.8" fill="#6CBE45"/>
<rect x="1398.5" y="2657.4" width="240.3" height="282.4" fill="#fff" stroke="#cccccc" stroke-width="3"/>
<line x1="1433.7" y1="2692.1" x2="1489.3" y2="2692.1" stroke="#4A69B0" stroke-width="8"/>
<polygon points="1461.5,2679.6 1474,2692.1 1461.5,2704.6 1449,2692.1" fill="#4A69B0"/>
<line x1="1433.7" y1="2762.7" x2="1489.3" y2="2762.7" stroke="#B8549E" stroke-width="8"/>
<rect x="1449.5" y="2750.7" width="24" height="24" fill="#B8549E"/>
<line x1="1433.7" y1="2834.4" x2="1489.3" y2="2834.4" stroke="#F8991E" stroke-width="8"/>
<polygon points="1461.5,2822.4 1473.5,2846.4 1449.5,2846.4" fill="#F8991E"/>
<line x1="1433.7" y1="2905" x2="1489.3" y2="2905" stroke="#6CBE45" stroke-width="8"/>
<circle cx="1461.5" cy="2905" r="11.8" fill="#6CBE45"/>
<text x="849.47" y="2568.75" font-size="66.38" textLength="118.1" lengthAdjust="spacingAndGlyphs" font-style="italic" font-weight="bold" fill="#000">Psn</text>
<text x="979.86" y="2568.75" font-size="66.38" textLength="77.83" lengthAdjust="spacingAndGlyphs" font-weight="bold" fill="#000">23</text>
<text x="147.38" y="3560.05" font-size="41.7" textLength="22.05" lengthAdjust="spacingAndGlyphs" fill="#333333">0</text>
<text x="125.33" y="3466.62" font-size="41.7" textLength="44.1" lengthAdjust="spacingAndGlyphs" fill="#333333">10</text>
<text x="125.33" y="3373.2" font-size="41.7" textLength="44.1" lengthAdjust="spacingAndGlyphs" fill="#333333">20</text>
<text x="125.33" y="3279.78" font-size="41.7" textLength="44.1" lengthAdjust="spacingAndGlyphs" fill="#333333">30</text>
<text x="125.33" y="3186.35" font-size="41.7" textLength="44.1" lengthAdjust="spacingAndGlyphs" fill="#333333">40</text>
<text x="125.33" y="3092.93" font-size="41.7" textLength="44.1" lengthAdjust="spacingAndGlyphs" fill="#333333">50</text>
<text x="125.33" y="2999.5" font-size="41.7" textLength="44.1" lengthAdjust="spacingAndGlyphs" fill="#333333">60</text>
<text x="125.33" y="2906.08" font-size="41.7" textLength="44.1" lengthAdjust="spacingAndGlyphs" fill="#333333">70</text>
<text x="125.33" y="2812.65" font-size="41.7" textLength="44.1" lengthAdjust="spacingAndGlyphs" fill="#333333">80</text>
<text x="125.33" y="2719.23" font-size="41.7" textLength="44.1" lengthAdjust="spacingAndGlyphs" fill="#333333">90</text>
<text x="103.28" y="2625.8" font-size="41.7" textLength="66.15" lengthAdjust="spacingAndGlyphs" fill="#333333">100</text>
<text x="194.66" y="3608.78" font-size="41.7" textLength="22.05" lengthAdjust="spacingAndGlyphs" fill="#333333">0</text>
<text x="364.9" y="3608.78" font-size="41.7" textLength="22.05" lengthAdjust="spacingAndGlyphs" fill="#333333">3</text>
<text x="535.13" y="3608.78" font-size="41.7" textLength="22.05" lengthAdjust="spacingAndGlyphs" fill="#333333">6</text>
<text x="706.27" y="3608.78" font-size="41.7" textLength="22.05" lengthAdjust="spacingAndGlyphs" fill="#333333">9</text>
<text x="865.48" y="3608.78" font-size="41.7" textLength="44.1" lengthAdjust="spacingAndGlyphs" fill="#333333">12</text>
<text x="1035.71" y="3608.78" font-size="41.7" textLength="44.1" lengthAdjust="spacingAndGlyphs" fill="#333333">15</text>
<text x="1205.95" y="3608.78" font-size="41.7" textLength="44.1" lengthAdjust="spacingAndGlyphs" fill="#333333">18</text>
<text x="1377.39" y="3608.78" font-size="41.7" textLength="44.1" lengthAdjust="spacingAndGlyphs" fill="#333333">21</text>
<text x="1547.32" y="3608.78" font-size="41.7" textLength="44.1" lengthAdjust="spacingAndGlyphs" fill="#333333">24</text>
<text x="879.22" y="3685" font-size="47.93" textLength="172.69" lengthAdjust="spacingAndGlyphs" fill="#111">Time (h)</text>
<text x="0" y="0" font-size="42.06" textLength="734.59" lengthAdjust="spacingAndGlyphs" fill="#111" transform="translate(77.1 3434.54) rotate(-90)">Normalized fold expression (n-fold)</text>
<text x="1492.31" y="2708.3" font-size="49.89" textLength="107.96" lengthAdjust="spacingAndGlyphs" font-style="italic" fill="#000">hrpA</text>
<text x="1492.31" y="2778.9" font-size="49.89" textLength="105.73" lengthAdjust="spacingAndGlyphs" font-style="italic" fill="#000">hrpS</text>
<text x="1492.31" y="2850.6" font-size="49.89" textLength="102.16" lengthAdjust="spacingAndGlyphs" font-style="italic" fill="#000">hrpL</text>
<text x="1492.31" y="2921.2" font-size="49.89" textLength="107.96" lengthAdjust="spacingAndGlyphs" font-style="italic" fill="#000">hrpV</text>
</g>
</svg></body></html>
